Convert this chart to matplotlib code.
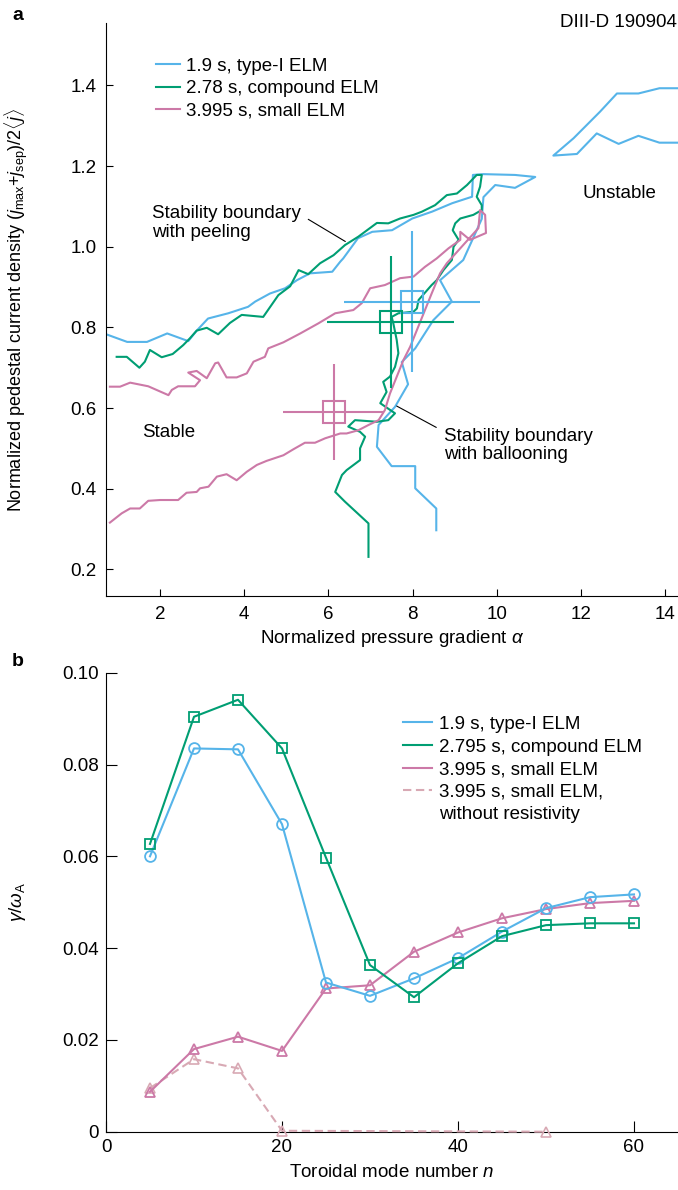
import matplotlib
matplotlib.use('Agg')
import matplotlib.pyplot as plt
from matplotlib.lines import Line2D

plt.rcParams['font.family'] = ['Liberation Sans', 'DejaVu Sans']
plt.rcParams['mathtext.fontset'] = 'custom'
plt.rcParams['mathtext.rm'] = 'Liberation Sans'
plt.rcParams['mathtext.it'] = 'Liberation Sans:italic'
plt.rcParams['font.size'] = 13.5

BLUE = '#56B4E9'
GREEN = '#009E73'
PINK = '#CC79A7'
PINK_LIGHT = '#D8A9B4'

# ---- panel a: stability boundaries (alpha, j) ----
blue_alpha = [0.72, 1.22, 1.69, 2.17, 2.67, 2.88, 3.14, 3.62, 4.09, 4.26, 4.61, 4.97, 5.25, 5.56,
              6.09, 6.28, 6.35, 6.70, 7.04, 7.51, 7.99, 8.46, 8.94, 9.41, 9.43, 9.68, 10.43, 10.91,
              10.43, 9.96, 9.68, 9.64, 9.52, 9.20, 8.65, 8.93, 8.49, 8.06, 7.74, 7.89, 7.58, 7.19,
              7.15, 7.50, 8.06, 8.06, 8.56, 8.56]
blue_j = [0.783, 0.764, 0.764, 0.785, 0.766, 0.793, 0.822, 0.835, 0.851, 0.864, 0.884, 0.897, 0.917,
          0.934, 0.938, 0.963, 0.971, 1.021, 1.037, 1.041, 1.070, 1.087, 1.108, 1.124, 1.178, 1.180,
          1.178, 1.173, 1.146, 1.153, 1.123, 1.069, 1.041, 0.967, 0.917, 0.864, 0.818, 0.748, 0.714,
          0.659, 0.603, 0.558, 0.504, 0.456, 0.456, 0.401, 0.351, 0.297]
blue2_alpha = [14.31, 13.86, 13.36, 12.85, 12.45, 11.82, 11.34, 11.90, 12.37, 12.89, 13.36, 13.86, 14.31]
blue2_j = [1.393, 1.393, 1.380, 1.380, 1.335, 1.269, 1.226, 1.230, 1.281, 1.255, 1.275, 1.258, 1.258]

green_alpha = [0.97, 1.21, 1.51, 1.64, 1.76, 2.04, 2.30, 2.55, 2.71, 2.87, 3.11, 3.38, 3.66, 3.94,
               4.45, 4.81, 5.09, 5.29, 5.52, 5.80, 6.12, 6.39, 6.71, 7.15, 7.42, 7.70, 8.02, 8.22,
               8.53, 8.81, 9.05, 9.29, 9.52, 9.64, 9.60, 9.52, 9.64, 9.64, 9.44, 9.13, 9.01, 8.95,
               9.09, 8.97, 8.93, 8.73, 8.57, 8.45, 8.14, 8.10, 8.02, 7.66, 7.50, 7.54, 7.62, 7.66,
               7.58, 7.46, 7.30, 7.38, 7.23, 7.58, 7.42, 7.15, 6.63, 6.47, 6.75, 6.87, 6.75, 6.75,
               6.43, 6.32, 6.16, 6.39, 6.95, 6.95]
green_j = [0.727, 0.727, 0.700, 0.715, 0.744, 0.726, 0.734, 0.756, 0.773, 0.792, 0.799, 0.783, 0.811,
           0.831, 0.826, 0.880, 0.902, 0.942, 0.932, 0.959, 0.979, 1.004, 1.025, 1.059, 1.058, 1.070,
           1.079, 1.087, 1.103, 1.128, 1.132, 1.153, 1.178, 1.178, 1.149, 1.124, 1.103, 1.091, 1.079,
           1.070, 1.058, 1.041, 1.017, 1.000, 0.967, 0.942, 0.917, 0.905, 0.868, 0.847, 0.839, 0.835,
           0.826, 0.810, 0.769, 0.736, 0.702, 0.678, 0.665, 0.640, 0.612, 0.587, 0.570, 0.566, 0.570,
           0.554, 0.541, 0.529, 0.500, 0.471, 0.446, 0.434, 0.392, 0.368, 0.314, 0.231]

pink_alpha = [0.81, 1.09, 1.29, 1.52, 1.72, 2.00, 2.43, 2.63, 2.87, 2.95, 3.15, 3.35, 3.58, 3.82,
              4.06, 4.30, 4.53, 4.93, 5.17, 5.44, 5.68, 5.92, 6.28, 6.43, 6.71, 6.95, 7.19, 7.34,
              7.46, 7.78, 7.94, 8.45, 8.65, 8.81, 9.56, 9.60, 9.72, 9.74, 9.36, 9.13, 9.13, 8.85,
              8.57, 8.29, 8.02, 7.70, 7.34, 6.99, 6.79, 6.59, 6.16, 5.76, 5.33, 4.93, 4.57, 4.49,
              4.22, 4.06, 3.82, 3.58, 3.38, 3.31, 3.11, 2.87, 2.67, 2.95, 2.83, 2.43, 2.28, 2.20,
              1.72, 1.29, 1.05, 0.81]
pink_j = [0.316, 0.339, 0.351, 0.351, 0.370, 0.372, 0.372, 0.390, 0.392, 0.401, 0.405, 0.430, 0.436,
          0.421, 0.442, 0.459, 0.469, 0.483, 0.498, 0.514, 0.514, 0.525, 0.537, 0.537, 0.545, 0.558,
          0.570, 0.595, 0.636, 0.719, 0.752, 0.884, 0.934, 0.959, 1.046, 1.091, 1.079, 1.034, 1.017,
          1.037, 1.017, 0.996, 0.971, 0.950, 0.926, 0.922, 0.905, 0.897, 0.860, 0.843, 0.835, 0.810,
          0.785, 0.763, 0.748, 0.727, 0.715, 0.686, 0.676, 0.676, 0.713, 0.711, 0.674, 0.692, 0.688,
          0.669, 0.654, 0.654, 0.645, 0.632, 0.654, 0.663, 0.653, 0.653]

# experimental operating points with error bars (blue, green, pink)
exp_alpha = [7.99, 7.48, 6.12]
exp_j = [0.864, 0.814, 0.591]
exp_dalpha = [1.61, 1.51, 1.20]
exp_dj = [0.174, 0.164, 0.119]
exp_colors = [BLUE, GREEN, PINK]

labels_a = ['1.9 s, type-I ELM', '2.78 s, compound ELM', '3.995 s, small ELM']

# ---- panel b: growth rates ----
n_mode = [5, 10, 15, 20, 25, 30, 35, 40, 45, 50, 55, 60]
gr_type1 = [0.0600, 0.0835, 0.0833, 0.0670, 0.0325, 0.0296, 0.0334, 0.0378, 0.0436, 0.0487, 0.0511, 0.0517]
gr_compound = [0.0627, 0.0904, 0.0941, 0.0835, 0.0597, 0.0363, 0.0293, 0.0367, 0.0426, 0.0450, 0.0454, 0.0454]
gr_small = [0.0087, 0.0180, 0.0207, 0.0176, 0.0312, 0.0319, 0.0392, 0.0434, 0.0465, 0.0485, 0.0498, 0.0503]
n_noresist = [5, 10, 15, 20, 50]
gr_noresist = [0.0095, 0.0158, 0.0138, 0.0002, 0.0]

labels_b = ['1.9 s, type-I ELM', '2.795 s, compound ELM', '3.995 s, small ELM',
            '3.995 s, small ELM,', 'without resistivity']

W, H = 678, 1190
fig = plt.figure(figsize=(W / 100, H / 100), dpi=100)
axa = fig.add_axes([106 / W, 1 - 596 / H, 572 / W, (596 - 23.3) / H])
axb = fig.add_axes([106 / W, 1 - 1131.7 / H, 572 / W, (1131.7 - 672.7) / H])

lw = 1.5
axa.plot(blue_alpha, blue_j, color=BLUE, lw=lw)
axa.plot(blue2_alpha, blue2_j, color=BLUE, lw=lw)
axa.plot(green_alpha, green_j, color=GREEN, lw=lw)
axa.plot(pink_alpha, pink_j, color=PINK, lw=lw)
for xa, ya, dx, dy, c in zip(exp_alpha, exp_j, exp_dalpha, exp_dj, exp_colors):
    axa.errorbar(xa, ya, xerr=dx, yerr=dy, fmt='s', color=c, mfc='none', mec=c,
                 ms=16.5, mew=lw, elinewidth=lw, capsize=0)

axa.set_xlim(0.717, 14.30)
axa.set_ylim(0.134, 1.554)
axa.set_xticks([2, 4, 6, 8, 10, 12, 14])
axa.set_yticks([0.2, 0.4, 0.6, 0.8, 1.0, 1.2, 1.4])
axa.set_yticklabels(['%.1f' % v for v in axa.get_yticks()])
axa.spines['top'].set_visible(False)
axa.spines['right'].set_visible(False)
axa.tick_params(direction='in', length=5, width=0.8, pad=7)
axa.set_xlabel(r'Normalized pressure gradient $\alpha$', labelpad=4)
axa.set_ylabel(r'Normalized pedestal current density ($j_{\rm max}$+$j_{\rm sep}$)/2$\langle j\rangle$',
               fontsize=13)
axa.yaxis.set_label_coords(-0.133, 0.5)

handles_a = [Line2D([], [], color=c, lw=lw) for c in [BLUE, GREEN, PINK]]
axa.legend(handles_a, labels_a, loc='upper left', bbox_to_anchor=(0.0874, 0.94),
           frameon=False, borderpad=0, borderaxespad=0, handlelength=1.28,
           handletextpad=0.3, labelspacing=0.29)

axa.text(1.565, 0.539, 'Stable', va='center', ha='left')
axa.text(12.04, 1.132, 'Unstable', va='center', ha='left')
axa.text(1.80, 1.059, 'Stability boundary\nwith peeling', va='center', ha='left', linespacing=1.12)
axa.text(8.75, 0.507, 'Stability boundary\nwith ballooning', va='center', ha='left', linespacing=1.12)
axa.annotate('', xy=(6.40, 1.013), xytext=(5.52, 1.068),
             arrowprops=dict(arrowstyle='-', lw=0.8, color='black', shrinkA=0, shrinkB=0))
axa.annotate('', xy=(7.62, 0.605), xytext=(8.56, 0.552),
             arrowprops=dict(arrowstyle='-', lw=0.8, color='black', shrinkA=0, shrinkB=0))

fig.text(677 / W, 1 - 26.7 / H, 'DIII-D 190904', ha='right', va='baseline')
fig.text(12 / W, 1 - 20 / H, 'a', fontweight='bold', fontsize=14, va='baseline')
fig.text(12 / W, 1 - 666 / H, 'b', fontweight='bold', fontsize=14, va='baseline')

# panel b
ms = 7.8
axb.plot(n_noresist, gr_noresist, color=PINK_LIGHT, lw=lw, dashes=(4, 2.2), marker='^',
         mfc='none', mec=PINK_LIGHT, ms=ms, mew=1.2, clip_on=False, zorder=3)
axb.plot(n_mode, gr_small, color=PINK, lw=lw, marker='^', mfc='none', mec=PINK, ms=ms, mew=1.3,
         clip_on=False, zorder=4)
axb.plot(n_mode, gr_type1, color=BLUE, lw=lw, marker='o', mfc='none', mec=BLUE, ms=ms, mew=1.3,
         zorder=4)
axb.plot(n_mode, gr_compound, color=GREEN, lw=lw, marker='s', mfc='none', mec=GREEN, ms=ms,
         mew=1.3, zorder=4)

axb.set_xlim(0, 65)
axb.set_ylim(0, 0.10)
axb.set_xticks([0, 20, 40, 60])
axb.set_yticks([0, 0.02, 0.04, 0.06, 0.08, 0.10])
axb.set_yticklabels(['0', '0.02', '0.04', '0.06', '0.08', '0.10'])
axb.spines['top'].set_visible(False)
axb.spines['right'].set_visible(False)
axb.tick_params(direction='in', length=8, width=0.8, pad=5)
axb.set_xlabel(r'Toroidal mode number $n$', labelpad=6)
axb.set_ylabel(r'$\gamma/\omega_{\rm A}$')
axb.yaxis.set_label_coords(-0.136, 0.5)

handles_b = [Line2D([], [], color=BLUE, lw=lw), Line2D([], [], color=GREEN, lw=lw),
             Line2D([], [], color=PINK, lw=lw),
             Line2D([], [], color=PINK_LIGHT, lw=lw, dashes=(4, 2.2)),
             Line2D([], [], color='none', lw=0)]
axb.legend(handles_b, labels_b, loc='upper left', bbox_to_anchor=(0.52, 0.906),
           frameon=False, borderpad=0, borderaxespad=0, handlelength=1.5,
           handletextpad=0.39, labelspacing=0.29)

fig.savefig('out.png', dpi=100)
